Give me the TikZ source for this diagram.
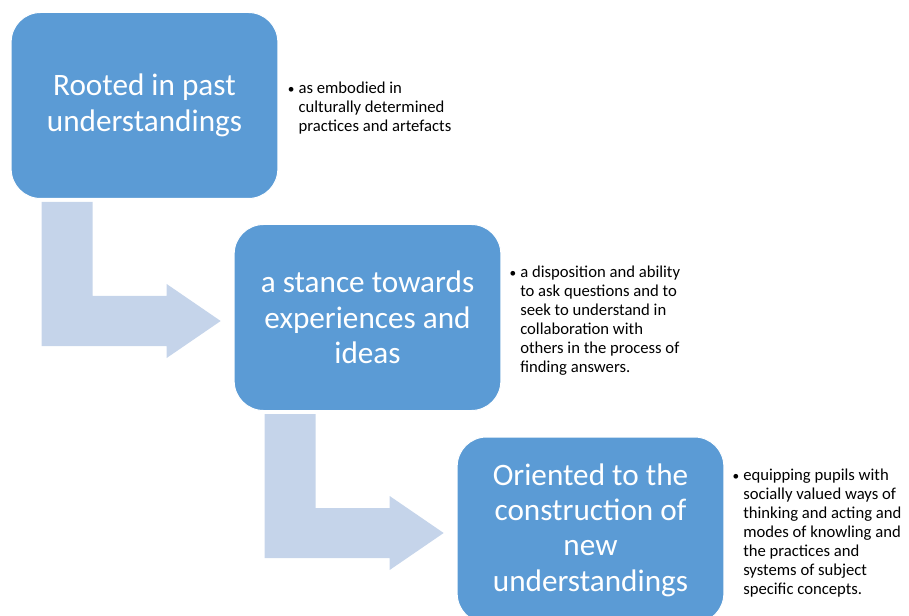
\documentclass[tikz,border=0pt]{standalone}
\usepackage{fontspec}
\setmainfont{Carlito}
\definecolor{boxblue}{RGB}{91,155,213}
\definecolor{bentblue}{RGB}{197,212,234}

\begin{document}
\begin{tikzpicture}[x=0.75pt,y=-0.75pt,
  stage/.style={fill=boxblue,draw=white,line width=0.75pt,rounded corners=22pt,
    minimum width=200pt,minimum height=139.5pt,text=white,align=center,
    font=\fontsize{23.4}{26.5}\selectfont},
  note/.style={anchor=west,inner sep=0pt,align=left,font=\fontsize{12.5}{14.25}\selectfont},
  bent/.style={fill=bentblue}]
\useasboundingbox (0,0) rectangle (909,616);
\clip (0,0) rectangle (909,616);

\node(R)[stage] at (144.5,105.5) {Rooted in past\\understandings};
\node(S)[stage] at (367.5,317.5) {a stance towards\\experiences and\\ideas};
\node(O)[stage] at (590.5,530) {Oriented to the\\construction of\\new\\understandings};

\node(nR)[note] at ([xshift=15pt,yshift=-2pt]R.east) {\llap{\scalebox{0.8}{\textbullet}\hspace{3pt}}as embodied in\\culturally determined\\practices and artefacts};
\node(nS)[note] at ([xshift=14pt,yshift=-2pt]S.east) {\llap{\scalebox{0.8}{\textbullet}\hspace{3pt}}a disposition and ability\\to ask questions and to\\seek to understand in\\collaboration with\\others in the process of\\finding answers.};
\node(nO)[note] at ([xshift=14pt,yshift=-2pt]O.east) {\llap{\scalebox{0.8}{\textbullet}\hspace{3pt}}equipping pupils with\\socially valued ways of\\thinking and acting and\\modes of knowling and\\the practices and\\systems of subject\\specific concepts.};

% bent arrows from one stage to the next
\foreach \b in {R,S}
  \fill[bent] ([shift={(31,3)}]\b.south west) -- ++(51,0) -- ++(0,94) -- ++(74,0) -- ++(0,-12)
    -- ++(54,37) -- ++(-54,37) -- ++(0,-12) -- ++(-125,0) -- cycle;

\end{tikzpicture}
\end{document}
